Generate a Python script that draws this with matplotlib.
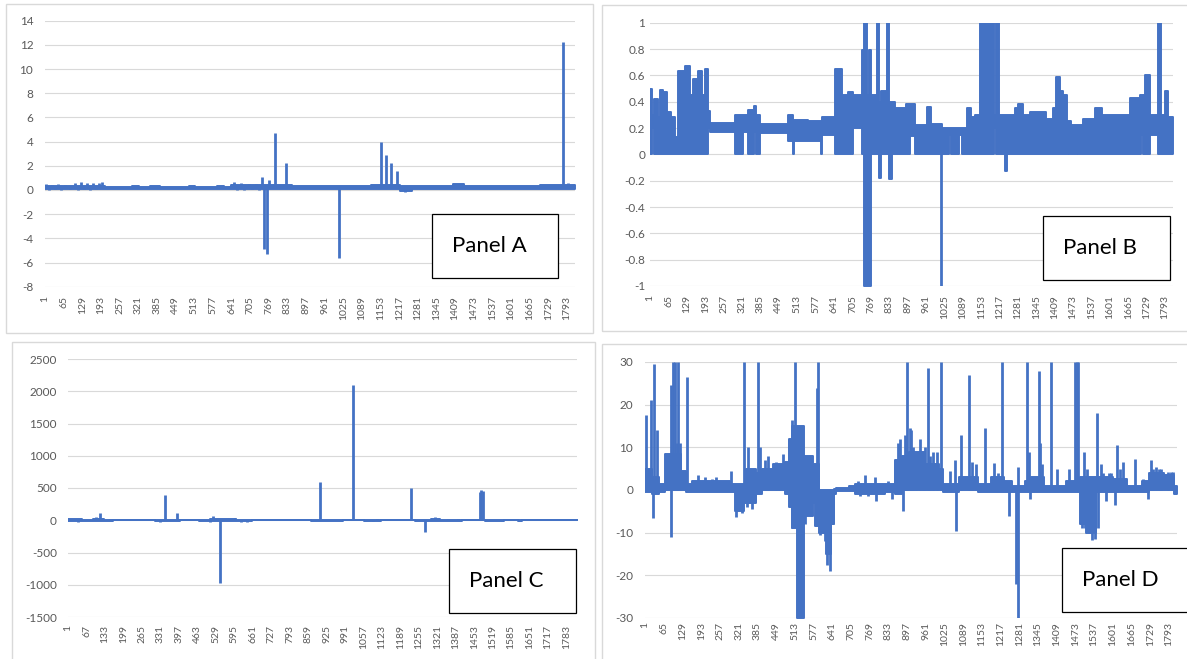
import matplotlib
matplotlib.use("Agg")
import matplotlib.pyplot as plt
from matplotlib.patches import Rectangle
import numpy as np

W, H = 1187, 659
BLUE = "#4472C4"
GRID = "#D9D9D9"
TICK = "#595959"
plt.rcParams['font.family'] = ['Lato', 'DejaVu Sans']

N = 1820

# ---------------- Panel A ----------------
a_seg_x = [1, 205, 300, 325, 360, 395, 495, 515, 590, 615, 640, 800, 850, 990,
           1120, 1150, 1220, 1260, 1400, 1440, 1700, 1790, 1820]
a_seg_lo = [0.08, 0.12, 0.05, 0.12, 0.05, 0.12, 0.05, 0.12, 0.05, 0.12, 0.08, 0.08,
            0.1, 0.1, 0.1, 0.05, -0.05, 0.1, 0.1, 0.1, 0.1, 0.05, 0.05]
a_seg_hi = [0.35, 0.28, 0.32, 0.28, 0.35, 0.28, 0.3, 0.28, 0.3, 0.28, 0.4, 0.4,
            0.32, 0.3, 0.38, 0.42, 0.3, 0.33, 0.5, 0.3, 0.4, 0.45, 0.45]
a_spk_x = [5, 15, 25, 35, 45, 55, 70, 85, 105, 115, 125, 135, 145, 155, 165, 175, 185, 195,
           650, 660, 672, 685, 700, 712, 725, 735,
           744, 752, 764, 769, 790, 828, 1010, 1156, 1173, 1190, 1210, 1236, 1780, 1796]
a_spk_y = [0.5, 0.0, 0.45, 0.05, 0.5, 0.0, 0.4, 0.05, 0.6, 0.0, 0.65, 0.1, 0.6, 0.0, 0.6, 0.05,
           0.55, 0.7,
           0.65, 0.0, 0.6, 0.0, 0.5, 0.05, 0.5, 0.0,
           1.1, -4.9, -5.3, 0.8, 4.75, 2.2, -5.65, 4.0, 2.9, 2.2, 1.6, -0.15, 12.2, 0.6]
a_base = 0.2
a_yticks = [-8, -6, -4, -2, 0, 2, 4, 6, 8, 10, 12, 14]

# ---------------- Panel B ----------------
b_seg_x = [1, 8, 15, 27, 35, 46, 58, 75, 87, 99, 122, 139, 151, 168, 180, 191, 203, 209, 296, 325,
           342, 363, 370, 383, 481, 497, 502, 551, 594, 600, 644, 667, 690, 708, 737, 746, 757, 763,
           769, 771, 789, 796, 804, 824, 833, 842, 852, 893, 905, 922, 963, 980, 1015, 1040, 1048,
           1075, 1085, 1102, 1119, 1131, 1148, 1198, 1203, 1215, 1235, 1243, 1270, 1282, 1299, 1322,
           1380, 1403, 1415, 1427, 1438, 1450, 1455, 1460, 1467, 1485, 1490, 1508, 1548, 1572, 1670,
           1705, 1710, 1715, 1722, 1740, 1769, 1780, 1792, 1804, 1820]
b_seg_lo = [0.0, 0.2, 0.0, 0.0, 0.0, 0.0, 0.0, 0.0, 0.0, 0.0, 0.0, 0.0, 0.0, 0.0, 0.0, 0.0, 0.2, 0.17,
            0.0, 0.17, 0.0, 0.17, 0.0, 0.16, 0.1, 0.0, 0.1, 0.1, 0.0, 0.15, 0.0, 0.0, 0.0, 0.2, 0.0,
            -1.0, -1.0, -1.0, 0.0, 0.0, 0.0, -0.18, 0.0, 0.0, -0.19, 0.0, 0.0, 0.0, 0.14, 0.0, 0.0,
            0.0, 0.0, 0.15, 0.0, 0.15, 0.0, 0.0, 0.0, 0.0, 0.0, 0.2, 0.0, 0.0, -0.13, 0.0, 0.0, 0.0,
            0.0, 0.0, 0.0, 0.0, 0.0, 0.0, 0.0, 0.0, 0.14, 0.0, 0.0, 0.14, 0.0, 0.0, 0.0, 0.0, 0.0,
            0.0, 0.15, 0.0, 0.0, 0.15, 0.0, 0.0, 0.0, 0.0, 0.0]
b_seg_hi = [0.5, 0.3, 0.42, 0.28, 0.49, 0.47, 0.32, 0.28, 0.13, 0.63, 0.67, 0.45, 0.57, 0.63, 0.45,
            0.65, 0.33, 0.24, 0.3, 0.3, 0.34, 0.37, 0.3, 0.23, 0.3, 0.25, 0.26, 0.25, 0.2, 0.28, 0.65,
            0.45, 0.47, 0.45, 0.79, 1.0, 0.45, 0.79, 0.79, 0.45, 1.0, 0.4, 0.48, 1.0, 0.4, 0.4, 0.35,
            0.38, 0.38, 0.22, 0.36, 0.23, 0.2, 0.2, 0.2, 0.2, 0.2, 0.35, 0.28, 0.3, 1.0, 0.3, 1.0,
            0.3, 0.3, 0.3, 0.35, 0.38, 0.3, 0.32, 0.27, 0.35, 0.59, 0.48, 0.45, 0.25, 0.25, 0.25,
            0.22, 0.22, 0.22, 0.27, 0.35, 0.3, 0.43, 0.45, 0.45, 0.45, 0.6, 0.3, 1.0, 0.3, 0.48,
            0.28, 0.28]
b_spk_x = [1012]
b_spk_y = [-1.0]
b_base = 0.2
b_yticks = [-1.0, -0.8, -0.6, -0.4, -0.2, 0.0, 0.2, 0.4, 0.6, 0.8, 1.0]

# ---------------- Panel C ----------------
c_seg_x = [1, 50, 90, 130, 160, 310, 345, 400, 470, 510, 600, 660, 870, 985, 1060, 1120, 1240, 1270,
           1300, 1330, 1410, 1490, 1560, 1610, 1625, 1820]
c_seg_lo = [-12, -4, -4, -4, -3, -12, -6, -3, -4, -12, -15, -3, -6, -3, -8, -3, -15, -6, -4, -4,
            -3, -12, -3, -6, -3, -3]
c_seg_hi = [12, 4, 25, 6, 3, 4, 6, 3, 6, 15, 8, 3, 6, 3, 8, 3, 4, 6, 20, 8, 3, 6, 3, 3, 3, 3]
c_spk_x = [20, 35, 100, 115, 150, 330, 347, 391, 472, 510, 520, 543, 597, 620, 640, 901, 1018,
           1090, 1105, 1228, 1278, 1312, 1360, 1395, 1472, 1478, 1484, 1615]
c_spk_y = [25, -25, 45, 105, 20, -20, 390, 115, 10, -25, 70, -970, 40, -25, -20, 590, 2090,
           -15, 15, 500, -180, 50, 15, 20, 440, 475, 460, -15]
c_base = 0
c_yticks = [-1500, -1000, -500, 0, 500, 1000, 1500, 2000, 2500]

# ---------------- Panel D ----------------
d_seg_x = [1, 25, 50, 70, 122, 140, 160, 290, 310, 338, 345, 380, 400, 440, 480, 492, 505, 521, 545,
           575, 583, 595, 620, 637, 648, 655, 700, 720, 820, 855, 880, 905, 960, 1005, 1020, 1075,
           1115, 1140, 1185, 1230, 1255, 1300, 1320, 1365, 1440, 1490, 1510, 1545, 1600, 1650, 1700,
           1725, 1775, 1810, 1820]
d_seg_lo = [-0.5, -1, -0.5, 0, 0, -0.5, -0.5, -0.5, -5, -3, -3, -1, 0, 0, -1, -4, -9, -30, -6, -3,
            -8.5, -10, -15, -8, -1, -0.3, -0.3, -1, -0.5, -1, 0, 0, 0, 0, -0.5, 0, 0, -0.5, -0.5,
            -0.5, -0.5, -0.5, -0.5, -0.5, -0.5, -8, -10, -0.5, -0.5, -0.5, -0.5, 0, 0, -1, -1]
d_seg_hi = [5, 3, 1.5, 8.5, 4.5, 1.5, 2, 1.5, 1.5, 1.5, 5, 4, 5, 6, 6.5, 12, 15, 15, 8, 6, 6, 0, 0,
            0, 0.3, 0.5, 1, 1.5, 1.5, 7, 8, 9, 6, 5, 1.5, 3, 3, 1.5, 3, 2, 1, 2, 3, 1, 2, 3, 3, 3,
            2.5, 1, 2, 4, 3.5, 1, 1]
d_spk_x = [3, 12, 20, 28, 32, 40, 74, 80, 88, 88, 95, 103, 111, 114, 120, 125, 133, 145, 182, 205,
           228, 243, 296, 313, 331, 340, 348, 353, 365, 376, 388, 393, 410, 422, 450, 459, 473, 485,
           494, 502, 502, 510, 515, 530, 541, 547, 555, 564, 570, 585, 589, 593, 599, 606, 616, 624,
           633, 642, 730, 735, 752, 764, 787, 792, 832, 844, 855, 867, 872, 884, 889, 898, 906, 912,
           918, 929, 941, 952, 960, 967, 975, 986, 998, 1012, 1043, 1060, 1064, 1081, 1109, 1120,
           1134, 1163, 1195, 1209, 1222, 1245, 1269, 1275, 1277, 1308, 1315, 1319, 1348, 1353, 1359,
           1391, 1411, 1452, 1473, 1478, 1482, 1494, 1503, 1505, 1511, 1519, 1528, 1539, 1547, 1550,
           1560, 1568, 1579, 1587, 1596, 1608, 1616, 1625, 1636, 1678, 1704, 1721, 1730, 1739, 1750,
           1759, 1767, 1790, 1800, 1807, 1813]
d_spk_y = [17.5, 5, 21, -6.5, 29.5, 14, 8.5, 8.5, 24.5, -11, 30, 30, 11, 30, 11, 4.5, 4.5, 26.5, 3.5,
           3, 2.5, 3, 4.5, -6.3, -5.5, 30, -4, 10, -4.5, -2.5, 30, 10, 7, 8, 6.5, 4.5, 8.5, 6.5, 12,
           16.5, -9, 15, 30, 12, 8, -8, 6, 8, 8, -8.5, 24, 30, -10.5, -9, -12, -17.5, -19, -8, 2,
           -1.5, 3.5, -1.5, 3, -2.5, 2, -2, 7, 11, 12, -5, 13, 30, 14.5, 14, 10, 8, 12, 9, 10, 28.5,
           8, 9, 9, 30, 4.5, 7, -9.5, 13, 27, 6.5, 6, 14.5, 6.3, 4, 30, -6, -22, -30, 5.5, 30, 9, -2,
           28, 11, 6, 30, 5, 5, 30, 30, 30, -9, 9, -9, 5, -10, -11.7, -11.5, 18, -9, 6, 4, -2.5, 4,
           4, -3.5, 10.5, 5, 6.5, 7.2, 2.5, -2, 7, 5, 5.3, 5, 5, 4.3, 4.3, 4.3, -1]
d_base = 0
d_yticks = [-30, -20, -10, 0, 10, 20, 30]

fig = plt.figure(figsize=(W / 100, H / 100), dpi=100)
fig.patch.set_facecolor("white")


def frac_rect(l, t, r, b):
    return [l / W, 1 - b / H, (r - l) / W, (b - t) / H]


def add_rect(l, t, r, b, ec, lw, fc="none", z=0.5):
    fig.add_artist(Rectangle((l / W, 1 - b / H), (r - l) / W, (b - t) / H,
                             transform=fig.transFigure, fc=fc, ec=ec, lw=lw, zorder=z))


# outer panel frames
add_rect(6, 4, 593, 333, GRID, 1.0)
add_rect(602, 5, 1195, 331, GRID, 1.0)
add_rect(12, 342, 595, 670, GRID, 1.0)
add_rect(602, 344, 1195, 670, GRID, 1.0)


def fmt(v):
    v = round(v, 1) + 0.0
    return f"{v:g}"


def panel(rect, seg_x, seg_lo, seg_hi, spk_x, spk_y, base, yticks, xstep, ypad, xpad):
    ax = fig.add_axes(frac_rect(*rect))
    ax.set_facecolor("none")
    ax.fill_between(seg_x, seg_lo, seg_hi, step='post', color=BLUE, ec=BLUE, lw=1.4, zorder=3)
    ax.vlines(spk_x, base, spk_y, color=BLUE, lw=2.0, zorder=3)
    ax.set_xlim(0.5, N + 0.5)
    ax.set_ylim(yticks[0], yticks[-1])
    ax.set_yticks(yticks)
    ax.set_yticklabels([fmt(v) for v in yticks])
    xt = list(range(1, N, xstep))
    ax.set_xticks(xt)
    ax.set_xticklabels([str(v) for v in xt], rotation=90)
    ax.grid(axis='y', color=GRID, lw=0.8, zorder=0)
    ax.set_axisbelow(True)
    for s in ax.spines.values():
        s.set_visible(False)
    ax.tick_params(axis='y', length=0, pad=ypad, labelsize=8.5, labelcolor=TICK)
    ax.tick_params(axis='x', length=0, pad=xpad, labelsize=7.5, labelcolor=TICK)
    return ax


panel((45, 20.7, 575, 286.7), a_seg_x, a_seg_lo, a_seg_hi, a_spk_x, a_spk_y, a_base, a_yticks, 64, 8.5, 7)
panel((650, 22.7, 1173, 286), b_seg_x, b_seg_lo, b_seg_hi, b_spk_x, b_spk_y, b_base, b_yticks, 64, 3.5, 6.5)
panel((68, 359, 577, 617), c_seg_x, c_seg_lo, c_seg_hi, c_spk_x, c_spk_y, c_base, c_yticks, 66, 8, 5.5)
panel((645, 362, 1177, 618), d_seg_x, d_seg_lo, d_seg_hi, d_spk_x, d_spk_y, d_base, d_yticks, 64, 8.5, 3)

# label boxes
boxes = [("Panel A", 432, 214, 558, 278), ("Panel B", 1043, 216, 1170, 280),
         ("Panel C", 449, 549, 576, 613), ("Panel D", 1062, 548, 1200, 612)]
for label, l, t, r, b in boxes:
    add_rect(l, t, r, b, "black", 0.9, fc="white", z=10)
    fig.text((l + 20) / W, 1 - ((t + b) / 2) / H, label, fontsize=16, color="black",
             ha="left", va="center", zorder=11)

fig.savefig("out.png", dpi=100)
